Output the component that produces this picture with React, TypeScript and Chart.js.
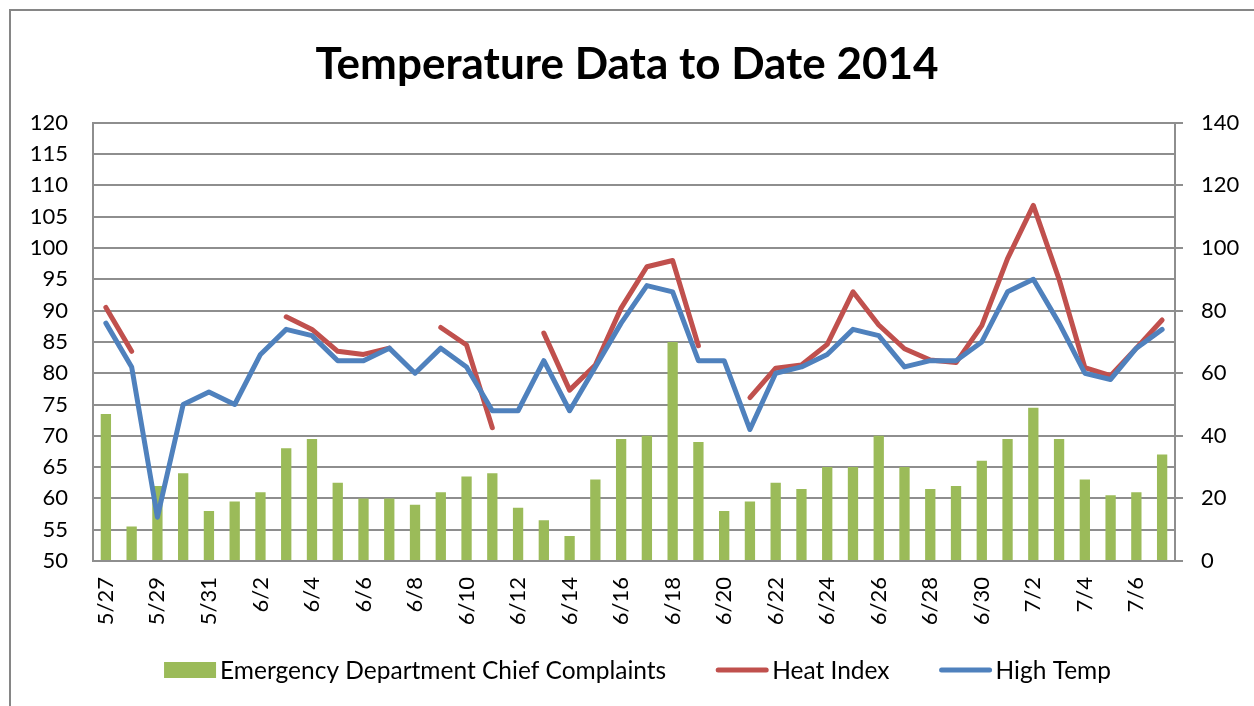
import React, { useEffect, useRef } from 'react';
import { Chart, registerables } from 'chart.js';

Chart.register(...registerables);

const dates = [
  '5/27', '5/28', '5/29', '5/30', '5/31', '6/1', '6/2', '6/3', '6/4', '6/5', '6/6', '6/7', '6/8', '6/9',
  '6/10', '6/11', '6/12', '6/13', '6/14', '6/15', '6/16', '6/17', '6/18', '6/19', '6/20', '6/21', '6/22',
  '6/23', '6/24', '6/25', '6/26', '6/27', '6/28', '6/29', '6/30', '7/1', '7/2', '7/3', '7/4', '7/5', '7/6', '7/7',
];

const complaints = [
  47, 11, 24, 28, 16, 19, 22, 36, 39, 25, 20, 20, 18, 22, 27,
  28, 17, 13, 8, 26, 39, 40, 70, 38, 16, 19, 25, 23, 30, 30,
  40, 30, 23, 24, 32, 39, 49, 39, 26, 21, 22, 34,
];

const heatIndex: (number | null)[] = [
  90.5, 83.5, null, null, null, null, null, 89, 87, 83.5, 83, 84, null, 87.3, 84.5,
  71.3, null, 86.4, 77.3, 81.3, 90.4, 97, 98, 84.4, null, 76.1, 80.8, 81.3, 84.6, 93,
  87.7, 83.9, 82.1, 81.7, 87.6, 98.3, 106.8, 95, 80.9, 79.6, 84, 88.5,
];

const highTemp = [
  88, 81, 57, 75, 77, 75, 83, 87, 86, 82, 82, 84, 80, 84, 81,
  74, 74, 82, 74, 81, 88, 94, 93, 82, 82, 71, 80, 81, 83, 87,
  86, 81, 82, 82, 85, 93, 95, 88, 80, 79, 84, 87,
];

const leftTicks = { min: 50, max: 120, step: 5 };
const rightTicks = { min: 0, max: 140, step: 20 };

const FONT = "Lato, 'Open Sans', sans-serif";
const GRID = '#8e8e8e';

// Custom legend drawn below the x axis (keeps wide item spacing like the original)
const legendPlugin = {
  id: 'bottomLegend',
  afterDraw(chart: any) {
    const ctx = chart.ctx as CanvasRenderingContext2D;
    const ds = chart.data.datasets;
    const boxW = 52;
    const textGap = 4;
    const itemGap = 50;
    const cy = 670;
    ctx.save();
    ctx.font = `24.5px ${FONT}`;
    ctx.textBaseline = 'middle';
    ctx.textAlign = 'left';
    const widths = ds.map((d: any) => boxW + textGap + ctx.measureText(d.label).width);
    const total = widths.reduce((a: number, b: number) => a + b, 0) + itemGap * (ds.length - 1);
    let x = 637.5 - total / 2;
    ds.forEach((d: any, i: number) => {
      if (d.type === 'bar') {
        ctx.fillStyle = d.backgroundColor;
        ctx.fillRect(x, cy - 8, boxW, 16);
      } else {
        ctx.strokeStyle = d.borderColor;
        ctx.lineWidth = 5;
        ctx.lineCap = 'round';
        ctx.beginPath();
        ctx.moveTo(x + 2, cy);
        ctx.lineTo(x + boxW - 2, cy);
        ctx.stroke();
      }
      ctx.fillStyle = '#000';
      ctx.fillText(d.label, x + boxW + textGap, cy + 1);
      x += widths[i] + itemGap;
    });
    ctx.restore();
  },
};

export default function App() {
  const ref = useRef<HTMLCanvasElement | null>(null);

  useEffect(() => {
    if (!ref.current) return;
    const chart = new Chart(ref.current, {
      type: 'bar',
      data: {
        labels: dates,
        datasets: [
          {
            type: 'bar',
            label: 'Emergency Department Chief Complaints',
            data: complaints,
            yAxisID: 'y1',
            backgroundColor: '#9BBB59',
            borderWidth: 0,
            barPercentage: 0.4,
            categoryPercentage: 1,
            order: 3,
          } as any,
          {
            type: 'line',
            label: 'Heat Index',
            data: heatIndex,
            yAxisID: 'y',
            borderColor: '#C0504D',
            backgroundColor: '#C0504D',
            borderWidth: 5,
            borderJoinStyle: 'round',
            borderCapStyle: 'round',
            pointRadius: 0,
            tension: 0,
            spanGaps: false,
            order: 2,
          } as any,
          {
            type: 'line',
            label: 'High Temp',
            data: highTemp,
            yAxisID: 'y',
            borderColor: '#4F81BD',
            backgroundColor: '#4F81BD',
            borderWidth: 5,
            borderJoinStyle: 'round',
            borderCapStyle: 'round',
            pointRadius: 0,
            tension: 0,
            order: 1,
          } as any,
        ],
      },
      options: {
        animation: false,
        responsive: false,
        maintainAspectRatio: false,
        layout: { padding: { top: 0, bottom: 60, left: 0, right: 0 } },
        plugins: {
          title: {
            display: true,
            text: 'Temperature Data to Date 2014',
            color: '#000',
            font: { family: FONT, size: 44, weight: 'bold' },
            padding: { top: 38, bottom: 32 },
          },
          legend: { display: false },
          tooltip: { enabled: false },
        },
        scales: {
          x: {
            offset: true,
            grid: { display: false, drawTicks: false },
            border: { display: true, color: GRID, width: 2 },
            ticks: {
              autoSkip: false,
              maxRotation: 90,
              minRotation: 90,
              padding: 16,
              color: '#000',
              font: { family: FONT, size: 22 },
              callback: function (this: any, _v: any, i: number) {
                return i % 2 === 0 ? dates[i] : null;
              },
            },
            afterFit: (s: any) => {
              s.height = 85;
            },
          },
          y: {
            position: 'left',
            min: leftTicks.min,
            max: leftTicks.max,
            grid: { color: GRID, lineWidth: 2, drawTicks: false },
            border: { display: true, color: GRID, width: 2 },
            ticks: {
              stepSize: leftTicks.step,
              padding: 25,
              color: '#000',
              font: { family: FONT, size: 22 },
            },
            afterFit: (s: any) => {
              s.width = 93;
            },
          },
          y1: {
            position: 'right',
            min: rightTicks.min,
            max: rightTicks.max,
            grid: { drawOnChartArea: false, color: GRID, lineWidth: 2, drawTicks: true, tickLength: 8 },
            border: { display: true, color: GRID, width: 2 },
            ticks: {
              stepSize: rightTicks.step,
              padding: 18,
              color: '#000',
              font: { family: FONT, size: 22 },
            },
            afterFit: (s: any) => {
              s.width = 79;
            },
          },
        },
      },
      plugins: [legendPlugin],
    });
    return () => chart.destroy();
  }, []);

  return (
    <div style={{ position: 'fixed', left: 0, top: 0, width: 1254, height: 706, background: '#fff', overflow: 'hidden' }}>
      <div
        style={{
          position: 'absolute',
          left: 9,
          top: 9,
          width: 1300,
          height: 800,
          borderLeft: '2px solid #868686',
          borderTop: '2px solid #868686',
        }}
      />
      <canvas ref={ref} width={1254} height={706} style={{ position: 'absolute', left: 0, top: 0, width: 1254, height: 706 }} />
    </div>
  );
}
